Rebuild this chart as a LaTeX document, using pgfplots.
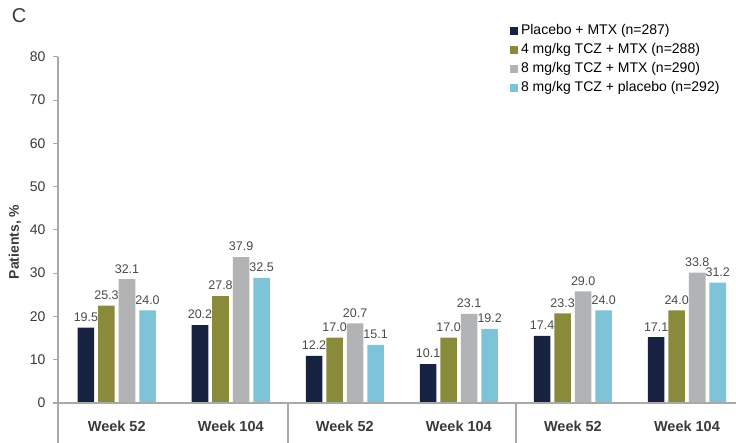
\documentclass[border=0pt]{standalone}
\usepackage{fontspec}
\setmainfont{Liberation Sans}
\usepackage{pgfplots}
\pgfplotsset{compat=1.18}
\usepackage{pgfplotstable}

\definecolor{cNavy}{HTML}{16223F}
\definecolor{cOlive}{HTML}{8A8B3A}
\definecolor{cGray}{HTML}{B2B3B5}
\definecolor{cBlue}{HTML}{7DC4D8}
\definecolor{axisgray}{HTML}{A9A9A9}
\definecolor{txt}{HTML}{3A3A3A}
\definecolor{vtxt}{HTML}{4A4A4A}

% h = drawn bar height (as in the figure), lab = printed value
\pgfplotstableread{
x h lab
0 17.4 19.5
1 18.0 20.2
2 10.9 12.2
3 9.0 10.1
4 15.5 17.4
5 15.2 17.1
}\placebo
\pgfplotstableread{
x h lab
0 22.5 25.3
1 24.7 27.8
2 15.1 17.0
3 15.1 17.0
4 20.7 23.3
5 21.4 24.0
}\tczfour
\pgfplotstableread{
x h lab
0 28.6 32.1
1 33.7 37.9
2 18.4 20.7
3 20.6 23.1
4 25.8 29.0
5 30.1 33.8
}\tczeight
\pgfplotstableread{
x h lab
0 21.4 24.0
1 28.9 32.5
2 13.4 15.1
3 17.1 19.2
4 21.4 24.0
5 27.8 31.2
}\tczpbo

\begin{document}
\begin{tikzpicture}
\begin{axis}[
    scale only axis,
    width=678pt, height=386.3pt,
    xmin=-0.515, xmax=5.43,
    ymin=-9.24, ymax=80,
    clip=false,
    axis line style={draw=none},
    ytick={0,10,...,80},
    xtick={0,...,5},
    xticklabels={Week 52,Week 104,Week 52,Week 104,Week 52,Week 104},
    xticklabel style={anchor=center, yshift=22pt, font=\fontsize{14.5}{16}\selectfont\bfseries, text=txt},
    major x tick style={draw=none},
    yticklabel style={font=\fontsize{14}{15}\selectfont, text=txt, xshift=-4pt},
    major y tick style={draw=axisgray, line width=0.8pt},
    tick align=outside,
    major tick length=5pt,
    /pgf/number format/assume math mode=true,
    ybar, bar width=0.145,
    point meta=explicit symbolic,
    nodes near coords={\pgfplotspointmeta},
    every node near coord/.append style={font=\fontsize{12.5}{14}\selectfont, text=vtxt, yshift=2.5pt},
    legend cell align=left,
    legend style={at={(0,1)}, anchor=north west, xshift=452pt, yshift=34pt,
        draw=none, fill=none, inner sep=0pt, row sep=3pt, column sep=0pt,
        font=\fontsize{14}{16}\selectfont,
        nodes={inner sep=1pt, text height=10.5pt, text depth=3.5pt}},
    legend image code/.code={\fill[#1] (0pt,-3.8pt) rectangle (7.5pt,3.7pt);},
]
\addplot[fill=cNavy, draw=none, bar shift=-0.27] table[x=x, y=h, meta=lab] {\placebo};
\addlegendentry{\,Placebo + MTX (n=287)}
\addplot[fill=cOlive, draw=none, bar shift=-0.09] table[x=x, y=h, meta=lab] {\tczfour};
\addlegendentry{\,4 mg/kg TCZ + MTX (n=288)}
\addplot[fill=cGray, draw=none, bar shift=0.09] table[x=x, y=h, meta=lab] {\tczeight};
\addlegendentry{\,8 mg/kg TCZ + MTX (n=290)}
\addplot[fill=cBlue, draw=none, bar shift=0.27] table[x=x, y=h, meta=lab] {\tczpbo};
\addlegendentry{\,8 mg/kg TCZ + placebo (n=292)}

% axis frame pieces
\draw[axisgray, line width=1.4pt] (axis cs:-0.515,80) -- (axis cs:-0.515,-9.24);
\draw[axisgray, line width=1.4pt] ([xshift=-5pt]axis cs:-0.515,0) -- (axis cs:5.43,0);
\draw[axisgray, line width=1.4pt] (axis cs:1.5,0) -- (axis cs:1.5,-9.24);
\draw[axisgray, line width=1.4pt] (axis cs:3.5,0) -- (axis cs:3.5,-9.24);

\node[rotate=90, font=\fontsize{14}{16}\selectfont\bfseries, text=txt]
    at ([xshift=-43pt]axis cs:-0.515,37.2) {Patients, \%};
\node[font=\fontsize{20}{22}\selectfont, text=txt]
    at ([xshift=-39pt, yshift=40.7pt]axis cs:-0.515,80) {C};

\coordinate (bl) at (rel axis cs:0,0);
\coordinate (tr) at (rel axis cs:1,1);
\end{axis}
\pgfresetboundingbox
\path ([xshift=-58pt]bl) rectangle ([yshift=56.7pt]tr);
\end{tikzpicture}
\end{document}
